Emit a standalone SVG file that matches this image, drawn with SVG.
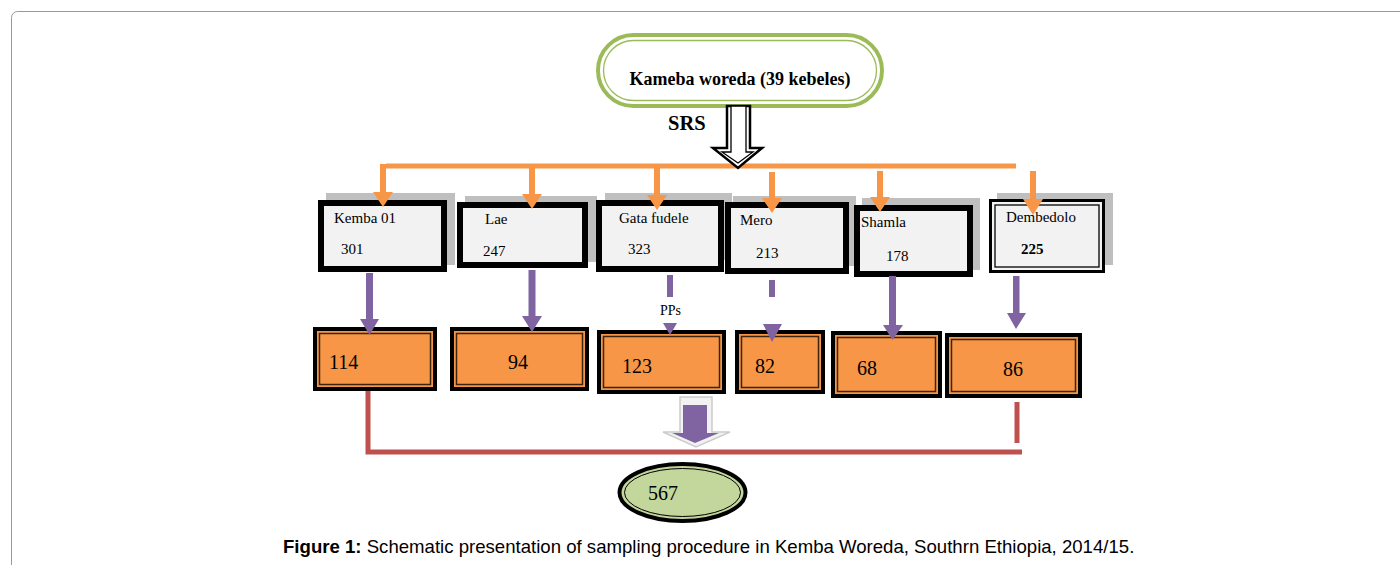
<svg xmlns="http://www.w3.org/2000/svg" width="1400" height="565" viewBox="0 0 1400 565">
<style>
.t{font-family:"Liberation Serif","Times New Roman",serif;fill:#000}
.lbl{font-size:15px}
.num{font-size:20px}
.shadow{fill:#BFBFBF}
.box{fill:#F2F2F2;stroke:#000;stroke-width:6}
.obox{fill:#F79646;stroke:#000;stroke-width:4}
.oin{fill:none;stroke:#3b2410;stroke-width:1.5}
.org{fill:#F79646}
.pur{fill:#8064A2}
.red{fill:none;stroke:#C0504D;stroke-width:5}
.cap{font-family:"Liberation Sans",Arial,sans-serif;font-size:18.6px;fill:#000}
</style>
<rect x="0" y="0" width="1400" height="565" fill="#fff"/>
<rect x="11.5" y="11.5" width="1400" height="600" rx="6" fill="#fff" stroke="#999" stroke-width="1"/>

<g id="top-node">
  <rect x="598" y="35" width="284" height="71" rx="35.5" fill="#fff" stroke="#9BBB59" stroke-width="4"/>
  <rect x="603.5" y="40.5" width="273" height="60" rx="30" fill="none" stroke="#9BBB59" stroke-width="1.3"/>
  <text class="t" x="740" y="85" font-size="18" font-weight="bold" text-anchor="middle">Kameba woreda (39 kebeles)</text>
</g>
<text id="srs-label" class="t" x="668" y="130" font-size="20.5" font-weight="bold">SRS</text>

<g id="node-kemba">
  <rect class="shadow" x="326" y="193" width="129" height="72"/>
  <rect class="box" x="321" y="203" width="123" height="66"/>
  <text class="t lbl" x="334" y="223">Kemba 01</text>
  <text class="t lbl" x="341" y="254">301</text>
</g>
<g id="node-lae">
  <rect class="shadow" x="465" y="196" width="132" height="66"/>
  <rect class="box" x="460" y="205" width="125" height="60"/>
  <text class="t lbl" x="485" y="224">Lae</text>
  <text class="t lbl" x="483" y="256">247</text>
</g>
<g id="node-gata">
  <rect class="shadow" x="605" y="193" width="127" height="67"/>
  <rect class="box" x="599" y="203" width="122" height="66"/>
  <text class="t lbl" x="619" y="223">Gata fudele</text>
  <text class="t lbl" x="628" y="254">323</text>
</g>
<g id="node-mero">
  <rect class="shadow" x="733" y="196" width="123" height="70"/>
  <rect class="box" x="728" y="205" width="118" height="66"/>
  <text class="t lbl" x="740" y="225">Mero</text>
  <text class="t lbl" x="756" y="258">213</text>
</g>
<g id="node-shamla">
  <rect class="shadow" x="862" y="198" width="118" height="72"/>
  <rect class="box" x="857" y="208" width="113" height="66"/>
  <text class="t lbl" x="861" y="227">Shamla</text>
  <text class="t lbl" x="886" y="261">178</text>
</g>
<g id="node-dembedolo">
  <rect class="shadow" x="997" y="193" width="116" height="72"/>
  <rect x="990.5" y="200.5" width="113" height="71" fill="#F2F2F2" stroke="#000" stroke-width="3"/>
  <rect x="995" y="205" width="104" height="62" fill="none" stroke="#000" stroke-width="1.3"/>
  <text class="t lbl" x="1006" y="222">Dembedolo</text>
  <text class="t lbl" x="1021" y="254" font-weight="bold">225</text>
</g>

<text id="pps-label" class="t" x="660" y="315" font-size="14">PPs</text>

<g id="sample-114">
  <rect class="obox" x="315" y="329" width="120" height="60"/>
  <rect class="oin" x="319.5" y="333.5" width="111" height="51"/>
  <text class="t num" x="329" y="369">114</text>
</g>
<g id="sample-94">
  <rect class="obox" x="452" y="329" width="135" height="60"/>
  <rect class="oin" x="456.5" y="333.5" width="126" height="51"/>
  <text class="t num" x="508" y="369">94</text>
</g>
<g id="sample-123">
  <rect class="obox" x="599" y="332" width="125" height="60"/>
  <rect class="oin" x="603.5" y="336.5" width="116" height="51"/>
  <text class="t num" x="622" y="373">123</text>
</g>
<g id="sample-82">
  <rect class="obox" x="737" y="332" width="86" height="60"/>
  <rect class="oin" x="741.5" y="336.5" width="77" height="51"/>
  <text class="t num" x="755" y="373">82</text>
</g>
<g id="sample-68">
  <rect class="obox" x="833" y="333" width="107" height="63"/>
  <rect class="oin" x="837.5" y="337.5" width="98" height="54"/>
  <text class="t num" x="857" y="375">68</text>
</g>
<g id="sample-86">
  <rect class="obox" x="947" y="335" width="133" height="61"/>
  <rect class="oin" x="951.5" y="339.5" width="124" height="52"/>
  <text class="t num" x="1003" y="376">86</text>
</g>

<g id="total">
  <ellipse cx="682.5" cy="492.5" rx="63" ry="28.5" fill="#C3D69B" stroke="#000" stroke-width="4"/>
  <ellipse cx="682.5" cy="492.5" rx="58" ry="24" fill="none" stroke="#000" stroke-width="1"/>
  <text class="t num" x="648" y="500">567</text>
</g>

<g id="connectors">
  <!-- orange distribution line -->
  <rect class="org" x="386" y="163.5" width="630" height="5"/>
  <g id="orange-arrows">
    <rect class="org" x="380" y="164" width="6" height="29"/><polygon class="org" points="373,192 393,192 383,207"/>
    <rect class="org" x="529" y="164" width="6" height="31"/><polygon class="org" points="522,194 542,194 532,209"/>
    <rect class="org" x="654" y="164" width="6" height="32"/><polygon class="org" points="647,195 667,195 657,210"/>
    <rect class="org" x="769" y="172" width="6" height="27"/><polygon class="org" points="762,198 782,198 772,213"/>
    <rect class="org" x="877" y="171" width="6" height="27"/><polygon class="org" points="870,197 890,197 880,212"/>
    <rect class="org" x="1030" y="171" width="6" height="29"/><polygon class="org" points="1023,199 1043,199 1033,215"/>
  </g>
  <!-- SRS hollow arrow -->
  <g id="srs-arrow">
    <polygon points="727,106 750,106 750,148 762,148 738,168 713,148 727,148" fill="#fff" stroke="#000" stroke-width="2.5" stroke-linejoin="miter"/>
    <polygon points="731,106 746,106 746,152 753,152 738,163 722,152 731,152" fill="#fff" stroke="#000" stroke-width="1.3"/>
  </g>
  <!-- purple arrows -->
  <g id="purple-arrows">
    <rect class="pur" x="366" y="273" width="7" height="47"/><polygon class="pur" points="360,319 379,319 369.5,335"/>
    <rect class="pur" x="528.5" y="270" width="7" height="47"/><polygon class="pur" points="522,316 542,316 532,332"/>
    <rect class="pur" x="667" y="275" width="6" height="22"/><polygon class="pur" points="663,323 677,323 670,335"/>
    <rect class="pur" x="769" y="280" width="6" height="17"/><polygon class="pur" points="763,324 782,324 772,342"/>
    <rect class="pur" x="889" y="276" width="7" height="50"/><polygon class="pur" points="883,325 903,325 892.5,340"/>
    <rect class="pur" x="1013" y="276" width="6.5" height="38"/><polygon class="pur" points="1007,313 1026,313 1016,329"/>
  </g>
  <!-- red collector -->
  <path class="red" d="M368,391 V452 H1022"/>
  <path class="red" d="M1017,402 V443"/>
  <!-- big down arrow -->
  <g id="sum-arrow">
    <polygon points="680,397 712,397 712,432 730,432 696,447 663,432 680,432" fill="#F2F2F2" stroke="#CCCCCC" stroke-width="1.5"/>
    <polygon class="pur" points="683,405 707,405 707,433 719,433 695,443 672,433 683,433"/>
  </g>
</g>

<text class="cap" x="283" y="553"><tspan font-weight="bold">Figure 1:</tspan> Schematic presentation of sampling procedure in Kemba Woreda, Southrn Ethiopia, 2014/15.</text>
</svg>
